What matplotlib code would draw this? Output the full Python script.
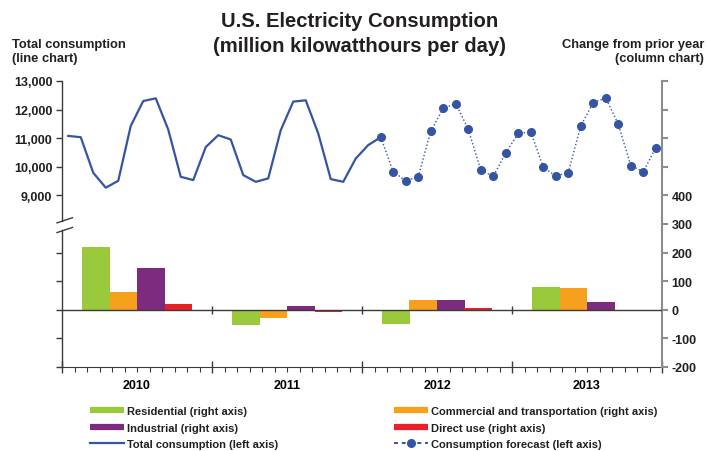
import numpy as np
import matplotlib.pyplot as plt
from matplotlib.lines import Line2D
from matplotlib.transforms import blended_transform_factory

plt.rcParams['font.family'] = ['Liberation Sans', 'DejaVu Sans']
plt.rcParams['font.weight'] = 'bold'

years = ['2010', '2011', '2012', '2013']
# total consumption, monthly (million kWh/day), Jan 2010 - Feb 2012
total = [11080, 11035, 9790, 9270, 9510, 11430, 12300, 12395, 11300, 9650, 9535, 10690,
         11105, 10955, 9710, 9475, 9595, 11280, 12280, 12325, 11165, 9570, 9475, 10290,
         10760, 11035]
# forecast, Feb 2012 - Dec 2013
forecast = [11035, 9825, 9510, 9650, 11245, 12045, 12210, 11315, 9885, 9665, 10490,
            11165, 11220, 9990, 9675, 9800, 11430, 12245, 12405, 11490, 10045, 9825, 10665]
# change from prior year (right axis)
residential = [220, -52, -48, 80]
commercial = [63, -28, 36, 77]
industrial = [147, 14, 36, 28]
direct_use = [21, -6, 7, 1]

c_res, c_com, c_ind, c_dir = '#9aca3c', '#f7a01e', '#7e2a7e', '#e8202a'
c_line = '#3454a4'
dark = '#3a3a3a'
grey = '#8c8c8c'

fig = plt.figure(figsize=(7.07, 4.52), dpi=100)
ax = fig.add_axes([62/707, 84/452, 600/707, 286/452])
ax2 = ax.twinx()

nmonths = 12*len(years)
x_tot = np.arange(len(total)) + 0.5
x_fc = np.arange(len(forecast)) + len(total) - 1 + 0.5

# columns
w = 2.2
centers = 12*np.arange(len(years)) + 6
for k, (vals, col) in enumerate([(residential, c_res), (commercial, c_com),
                                 (industrial, c_ind), (direct_use, c_dir)]):
    ax2.bar(centers + (k - 1.5)*w, vals, width=w, color=col, zorder=2)
ax2.axhline(0, color=dark, lw=1, zorder=3)
ax2.vlines(12*np.arange(1, len(years)), -14, 14, color=dark, lw=1, zorder=3)

# lines
ax.plot(x_tot, total, color=c_line, lw=1.6, zorder=4)
ax.plot(x_fc, forecast, color=c_line, lw=1, ls=(0, (1, 1.6)), marker='o', ms=5.5,
        mec=c_line, mfc=c_line, zorder=4)

ax.set_xlim(0, nmonths)
ax.set_ylim(3000, 13000)
ax2.set_ylim(-200, 800)

lt = [3000, 4000, 5000, 6000, 7000, 9000, 10000, 11000, 12000, 13000]
ax.set_yticks(lt)
ax.set_yticklabels(['{:,}'.format(v) if v >= 9000 else '' for v in lt], fontsize=9, color='#231f20')
rt = list(range(-200, 801, 100))
ax2.set_yticks(rt)
ax2.set_yticklabels([str(v) if v <= 400 else '' for v in rt], fontsize=9, color='#231f20')

ax.set_xticks(12*np.arange(len(years) + 1))
ax.set_xticks(np.arange(nmonths + 1), minor=True)
ax.set_xticklabels([])
ax.tick_params(axis='x', which='major', direction='inout', length=8, color=dark, width=1)
ax.tick_params(axis='x', which='minor', direction='out', length=3.5, color=dark, width=0.8)
ax.tick_params(axis='y', direction='out', length=4, color=dark, width=1, pad=3)
ax2.tick_params(axis='y', direction='out', length=4, color=grey, width=1.5, pad=3)

for s in ['top', 'left', 'right']:
    ax.spines[s].set_visible(False)
for s in ['top', 'left', 'bottom']:
    ax2.spines[s].set_visible(False)
ax.spines['bottom'].set_color(dark)
ax2.spines['right'].set_color(grey)
ax2.spines['right'].set_linewidth(1.5)

# broken left axis
ax.plot([0, 0], [0, 0.478], transform=ax.transAxes, color=dark, lw=1, clip_on=False)
ax.plot([0, 0], [0.51, 1], transform=ax.transAxes, color=dark, lw=1, clip_on=False)
for yb in [0.478, 0.512]:
    ax.plot([-0.0083, 0.0175], [yb - 0.008, yb + 0.01], transform=ax.transAxes,
            color=dark, lw=1, clip_on=False)

tr = blended_transform_factory(ax.transData, ax.transAxes)
for c, yr in zip(centers, years):
    ax.text(c, -0.063, yr, transform=tr, ha='center', va='center', fontsize=9)

fig.text(0.508, 0.973, 'U.S. Electricity Consumption\n(million kilowatthours per day)',
         ha='center', va='top', fontsize=14.6, linespacing=1.37, color='#231f20')
fig.text(12/707, 1 - 39/452, 'Total consumption\n(line chart)', ha='left', va='top',
         fontsize=9.3, color='#231f20')
fig.text(704/707, 1 - 39/452, 'Change from prior year\n(column chart)', ha='right', va='top',
         fontsize=9.3, multialignment='right', color='#231f20')

h1 = [Line2D([], [], color=c_res, lw=4.5, solid_capstyle='butt'),
      Line2D([], [], color=c_ind, lw=4.5, solid_capstyle='butt'),
      Line2D([], [], color=c_line, lw=1.6)]
l1 = ['Residential (right axis)', 'Industrial (right axis)', 'Total consumption (left axis)']
h2 = [Line2D([], [], color=c_com, lw=4.5, solid_capstyle='butt'),
      Line2D([], [], color=c_dir, lw=4.5, solid_capstyle='butt'),
      Line2D([], [], color=c_line, lw=1.4, ls=(0, (2, 2)), marker='o', ms=5.5)]
l2 = ['Commercial and transportation (right axis)', 'Direct use (right axis)',
      'Consumption forecast (left axis)']
kw = dict(frameon=False, fontsize=8, handlelength=3.05, handletextpad=0.3,
          labelspacing=0.6, borderpad=0, borderaxespad=0, loc='upper left', markerscale=1)
leg1 = fig.legend(h1, l1, bbox_to_anchor=(90/707, 1 - 407/452), **kw)
leg2 = fig.legend(h2, l2, bbox_to_anchor=(394/707, 1 - 407/452), **kw)
for lg in (leg1, leg2):
    for t in lg.get_texts():
        t.set_color('#231f20')

fig.savefig('out.png', dpi=100)
